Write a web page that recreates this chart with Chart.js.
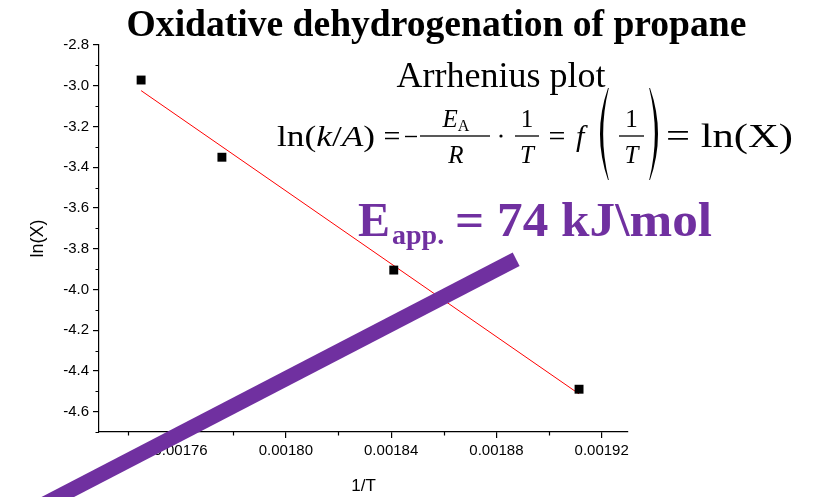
<!DOCTYPE html>
<html>
<head>
<meta charset="utf-8">
<script src="https://cdn.jsdelivr.net/npm/chart.js@4/dist/chart.umd.min.js"></script>
<style>
  html, body { margin: 0; padding: 0; background: #fff; }
  #wrap { width: 821px; height: 497px; position: relative; }
</style>
</head>
<body>
<div id="wrap"><canvas id="c" width="821" height="497"></canvas></div>
<script>
// Measured conversions: inverse temperature (1/K) and ln(X)
const invT = [0.001745, 0.0017757, 0.001841, 0.0019114];
const lnX  = [-2.972, -3.351, -3.905, -4.490];

// Linear fit end points
const fitInvT = [0.001745, 0.0019114];
const fitLnX  = [-3.024, -4.513];

// Highlight stroke end points (data units)
const markInvT = [0.0016965, 0.0018875];
const markLnX  = [-5.132, -3.852];

// Axis ticks
const xTickValues  = [0.00176, 0.00180, 0.00184, 0.00188, 0.00192];
const xMinorValues = [0.00174, 0.00178, 0.00182, 0.00186, 0.00190];
const yTickValues  = [-4.6, -4.4, -4.2, -4.0, -3.8, -3.6, -3.4, -3.2, -3.0, -2.8];
const yMinorValues = [-4.7, -4.5, -4.3, -4.1, -3.9, -3.7, -3.5, -3.3, -3.1, -2.9];

const SANS  = '"Liberation Sans", Arial, sans-serif';
const SERIF = '"Liberation Serif", "Times New Roman", serif';
const PURPLE = '#7030A0';

const toXY = (xs, ys) => xs.map((x, i) => ({ x: x, y: ys[i] }));

// Draw a run of text pieces scaled horizontally to span x0..x1
function drawRun(ctx, runs, x0, x1, baseline) {
  let total = 0;
  runs.forEach(r => { ctx.font = r.font; r.w = ctx.measureText(r.t).width; total += r.w; });
  const sx = x1 != null ? (x1 - x0) / total : 1;
  ctx.save();
  ctx.translate(x0, baseline);
  ctx.scale(sx, 1);
  ctx.textAlign = 'left';
  ctx.textBaseline = 'alphabetic';
  let x = 0;
  runs.forEach(r => { ctx.font = r.font; ctx.fillText(r.t, x, r.dy || 0); x += r.w; });
  ctx.restore();
}

function centered(ctx, runs, cx, baseline) {
  let total = 0;
  runs.forEach(r => { ctx.font = r.font; total += ctx.measureText(r.t).width; });
  drawRun(ctx, runs, cx - total / 2, null, baseline);
}

function paren(ctx, xl, xr, top, bottom, left) {
  const mid = (top + bottom) / 2;
  ctx.beginPath();
  if (left) {
    ctx.moveTo(xr, top);
    ctx.quadraticCurveTo(xl - 4, mid, xr, bottom);
    ctx.lineTo(xr + 0.8, bottom);
    ctx.quadraticCurveTo(xl + 1.5, mid, xr + 0.8, top);
  } else {
    ctx.moveTo(xl, top);
    ctx.quadraticCurveTo(xr + 4, mid, xl, bottom);
    ctx.lineTo(xl - 0.8, bottom);
    ctx.quadraticCurveTo(xr - 1.5, mid, xl - 0.8, top);
  }
  ctx.closePath();
  ctx.fill();
}

function hline(ctx, x0, x1, y, w) {
  ctx.fillRect(x0, y - w / 2, x1 - x0, w);
}

const minorTicks = {
  id: 'minorTicks',
  beforeDatasetsDraw(chart) {
    const ctx = chart.ctx, xs = chart.scales.x, ys = chart.scales.y;
    const a = chart.chartArea;
    ctx.save();
    ctx.strokeStyle = '#000';
    ctx.lineWidth = 1.2;
    ctx.beginPath();
    xMinorValues.forEach(v => {
      const px = Math.round(xs.getPixelForValue(v)) + 0.5;
      ctx.moveTo(px, a.bottom); ctx.lineTo(px, a.bottom + 3.5);
    });
    yMinorValues.forEach(v => {
      const py = Math.round(ys.getPixelForValue(v)) + 0.5;
      ctx.moveTo(a.left, py); ctx.lineTo(a.left - 3.5, py);
    });
    ctx.stroke();
    ctx.restore();
  }
};

const annotations = {
  id: 'annotations',
  afterDraw(chart) {
    const ctx = chart.ctx;
    ctx.save();
    ctx.fillStyle = '#000';
    ctx.textBaseline = 'alphabetic';

    // Title
    ctx.font = 'bold 37.6px ' + SERIF;
    ctx.textAlign = 'center';
    ctx.fillText('Oxidative dehydrogenation of propane', 436.5, 36);

    // Subtitle
    ctx.font = '36px ' + SERIF;
    ctx.fillText('Arrhenius plot', 501, 87);

    // Arrhenius relation
    const up = '30px ' + SERIF, it = 'italic 30px ' + SERIF;
    const upS = '25px ' + SERIF, itS = 'italic 25px ' + SERIF, sub = '16px ' + SERIF;
    drawRun(ctx, [
      { t: 'ln(', font: up }, { t: 'k', font: it }, { t: '/', font: up },
      { t: 'A', font: it }, { t: ')', font: up }
    ], 277, 375, 146);
    ctx.textAlign = 'center';
    ctx.font = up;
    ctx.fillText('=', 392, 146);
    hline(ctx, 405, 417, 136.5, 1.4);
    hline(ctx, 420, 490, 136, 1.3);
    centered(ctx, [{ t: 'E', font: itS }, { t: 'A', font: sub, dy: 4 }], 456, 127);
    centered(ctx, [{ t: 'R', font: itS }], 456, 163);
    ctx.beginPath(); ctx.arc(501, 136, 1.6, 0, Math.PI * 2); ctx.fill();
    hline(ctx, 515, 539, 136, 1.3);
    centered(ctx, [{ t: '1', font: upS }], 527, 127);
    centered(ctx, [{ t: 'T', font: itS }], 527, 163);
    ctx.textAlign = 'center';
    ctx.font = up;
    ctx.fillText('=', 557, 146);
    drawRun(ctx, [{ t: 'f', font: it }], 576, null, 146);
    paren(ctx, 596, 608, 88, 180, true);
    hline(ctx, 619, 644, 136, 1.3);
    centered(ctx, [{ t: '1', font: upS }], 631.5, 127);
    centered(ctx, [{ t: 'T', font: itS }], 631.5, 163);
    paren(ctx, 650, 662, 88, 180, false);
    drawRun(ctx, [{ t: '= ln(X)', font: '33px ' + SERIF }], 666, 793, 147);

    // Apparent activation energy
    ctx.fillStyle = PURPLE;
    drawRun(ctx, [{ t: 'E', font: 'bold 48px ' + SERIF }], 358, null, 236);
    drawRun(ctx, [{ t: 'app.', font: 'bold 28px ' + SERIF }], 392, null, 244);
    drawRun(ctx, [{ t: '= 74 kJ\\mol', font: 'bold 48px ' + SERIF }], 455, 712, 236);
    ctx.restore();
  }
};

new Chart(document.getElementById('c'), {
  type: 'scatter',
  data: {
    datasets: [
      {
        label: 'mark',
        data: toXY(markInvT, markLnX),
        showLine: true,
        borderColor: PURPLE,
        borderWidth: 15,
        borderCapStyle: 'butt',
        pointRadius: 0,
        clip: false,
        order: 0
      },
      {
        label: 'ln(X)',
        data: toXY(invT, lnX),
        showLine: false,
        pointStyle: 'rect',
        pointRadius: 6.3,
        pointBorderWidth: 0,
        backgroundColor: '#000',
        borderColor: '#000',
        order: 1
      },
      {
        label: 'fit',
        data: toXY(fitInvT, fitLnX),
        showLine: true,
        borderColor: '#ff0000',
        borderWidth: 1,
        pointRadius: 0,
        order: 2
      }
    ]
  },
  options: {
    responsive: false,
    animation: false,
    events: [],
    layout: { padding: { left: 0, top: 45, right: 193, bottom: 0 } },
    plugins: { legend: { display: false }, tooltip: { enabled: false } },
    scales: {
      x: {
        type: 'linear',
        min: 0.001729,
        max: 0.00193,
        afterBuildTicks: s => { s.ticks = xTickValues.map(v => ({ value: v })); },
        afterFit: s => { s.height = 65; },
        ticks: {
          callback: v => Number(v).toFixed(5),
          font: { family: SANS, size: 15 },
          color: '#000',
          padding: 4,
          maxRotation: 0,
          autoSkip: false
        },
        grid: { display: true, drawOnChartArea: false, drawTicks: true, tickLength: 6, color: '#000', lineWidth: 1.2 },
        border: { display: true, color: '#000', width: 1.2 },
        title: { display: true, text: '1/T', font: { family: SANS, size: 17 }, color: '#000', padding: { top: 0, bottom: 0 } }
      },
      y: {
        type: 'linear',
        min: -4.7,
        max: -2.8,
        afterBuildTicks: s => { s.ticks = yTickValues.map(v => ({ value: v })); },
        afterFit: s => { s.width = 99; },
        ticks: {
          callback: v => Number(v).toFixed(1),
          font: { family: SANS, size: 15 },
          color: '#000',
          padding: 4,
          autoSkip: false
        },
        grid: { display: true, drawOnChartArea: false, drawTicks: true, tickLength: 6, color: '#000', lineWidth: 1.2 },
        border: { display: true, color: '#000', width: 1.2 },
        title: { display: true, text: 'ln(X)', font: { family: SANS, size: 18 }, color: '#000', padding: { top: 27, bottom: 0 } }
      }
    }
  },
  plugins: [minorTicks, annotations]
});
</script>
</body>
</html>
